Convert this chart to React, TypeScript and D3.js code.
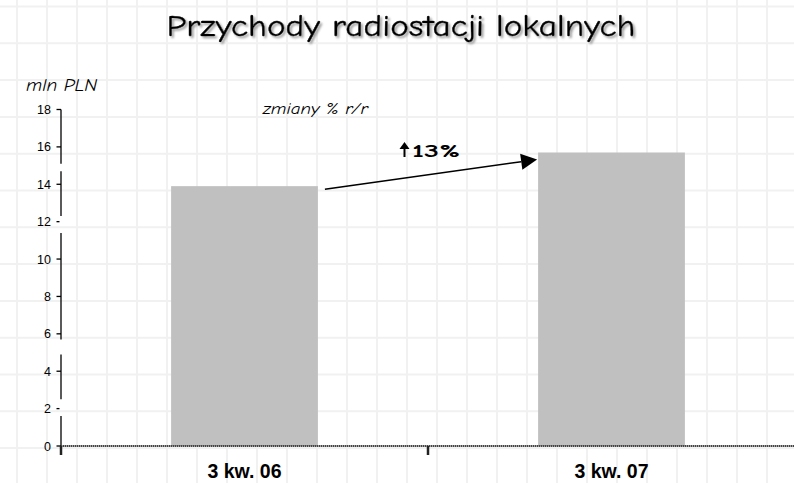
import React from "react";
import * as d3 from "d3";

const title = "Przychody radiostacji lokalnych";
const unitLabel = "mln PLN";
const changeCaption = "zmiany % r/r";
const changeLabel = "13%";
const categories = ["3 kw. 06", "3 kw. 07"];
const values = [13.9, 15.7];
const yTicks = [0, 2, 4, 6, 8, 10, 12, 14, 16, 18];
// breaks visible in the y axis line (value units)
const axisBreaks: [number, number][] = [
  [14.7, 15.1],
  [11.4, 12.3],
  [4.9, 5.7],
  [1.6, 2.5],
];

const W = 794;
const H = 483;
const comic = "'Comic Sans MS', 'Comic Neue', 'DejaVu Sans', sans-serif";
const arial = "'Liberation Sans', Arial, sans-serif";

export default function App() {
  const y = d3.scaleLinear().domain([0, 18]).range([446, 109.5]);
  const x = d3.scaleBand<string>().domain(categories).range([61, 795]);
  const bw = x.bandwidth();
  const barW = bw * 0.4;
  const barX = (c: string) => (x(c) as number) + bw * 0.3;

  const vGrid = d3.range(17, W, 30);
  const hGrid = d3.range(6.5, H, 36.8);

  const segs: [number, number][] = [];
  let top = 18;
  const sorted = [...axisBreaks].sort((a, b) => b[1] - a[1]);
  sorted.forEach(([lo, hi]) => {
    segs.push([hi, top]);
    top = lo;
  });
  segs.push([0, top]);

  const x0 = barX(categories[0]) + barW + 7;
  const y0 = y(values[0]) + 3;
  const x1 = barX(categories[1]) - 1;
  const y1 = y(values[1]) + 7;
  const ang = Math.atan2(y1 - y0, x1 - x0);
  const headL = 16;
  const headW = 8;
  const bx = x1 - headL * Math.cos(ang);
  const by = y1 - headL * Math.sin(ang);
  const px = -Math.sin(ang) * headW;
  const py = Math.cos(ang) * headW;

  return (
    <svg
      width={W}
      height={H}
      style={{ position: "fixed", left: 0, top: 0, background: "#fff" }}
    >
      <defs>
        <filter id="tshadow" x="-5%" y="-30%" width="110%" height="160%">
          <feDropShadow dx="2" dy="2" stdDeviation="0.8" floodColor="#888" floodOpacity="0.8" />
        </filter>
      </defs>
      <g stroke="#f1f1f1" strokeWidth={2}>
        {vGrid.map((gx) => (
          <line key={"v" + gx} x1={gx} x2={gx} y1={0} y2={H} />
        ))}
        {hGrid.map((gy) => (
          <line key={"h" + gy} x1={0} x2={W} y1={gy} y2={gy} />
        ))}
      </g>

      <text
        x={401}
        y={36}
        textAnchor="middle"
        fontFamily={comic}
        fontSize={31}
        fill="#000"
        stroke="#000"
        strokeWidth={0.4}
        filter="url(#tshadow)"
        textLength={469}
        lengthAdjust="spacingAndGlyphs"
      >
        {title}
      </text>

      <text
        x={26}
        y={91}
        fontFamily={comic}
        fontStyle="italic"
        fontSize={18}
        textLength={71}
        lengthAdjust="spacingAndGlyphs"
      >
        {unitLabel}
      </text>
      <text
        x={263}
        y={114}
        fontFamily={comic}
        fontStyle="italic"
        fontSize={15.5}
        textLength={105}
        lengthAdjust="spacingAndGlyphs"
      >
        {changeCaption}
      </text>

      {categories.map((c, i) => (
        <rect
          key={c}
          x={barX(c)}
          y={y(values[i])}
          width={barW}
          height={y(0) - y(values[i])}
          fill="#c0c0c0"
        />
      ))}

      <g stroke="#000" strokeWidth={1.3}>
        {segs.map(([a, b], i) => (
          <line key={"s" + i} x1={61} x2={61} y1={y(a)} y2={y(b)} />
        ))}
        {yTicks.map((t) => (
          <line key={"t" + t} x1={56.5} x2={t === 12 || t === 2 ? 59.5 : 61} y1={y(t)} y2={y(t)} />
        ))}
      </g>
      {yTicks.map((t) => (
        <text
          key={"l" + t}
          x={51}
          y={y(t) + 4.5}
          textAnchor="end"
          fontFamily={arial}
          fontSize={12.5}
          fill="#000"
        >
          {t}
        </text>
      ))}

      <line x1={61} x2={W} y1={y(0)} y2={y(0)} stroke="#444" strokeWidth={2} strokeDasharray="1.5 0.5" />
      {[61, 428].map((tx) => (
        <line key={"xt" + tx} x1={tx} x2={tx} y1={y(0)} y2={y(0) + 9} stroke="#222" strokeWidth={2.5} />
      ))}
      {categories.map((c) => (
        <text
          key={"xl" + c}
          x={(x(c) as number) + bw / 2}
          y={478}
          textAnchor="middle"
          fontFamily={arial}
          fontWeight="bold"
          fontSize={19.5}
        >
          {c}
        </text>
      ))}

      <line x1={x0} y1={y0} x2={bx} y2={by} stroke="#000" strokeWidth={1.5} />
      <polygon
        points={`${x1},${y1} ${bx + px},${by + py} ${bx - px},${by - py}`}
        fill="#000"
      />
      <g>
        <line x1={404.5} x2={404.5} y1={147} y2={157} stroke="#000" strokeWidth={2} />
        <polygon points="404.5,142 399.5,149 409.5,149" fill="#000" />
      </g>
      <text
        x={412}
        y={157}
        fontFamily={comic}
        fontWeight="bold"
        fontSize={19}
        textLength={48}
        lengthAdjust="spacingAndGlyphs"
      >
        {changeLabel}
      </text>
    </svg>
  );
}
